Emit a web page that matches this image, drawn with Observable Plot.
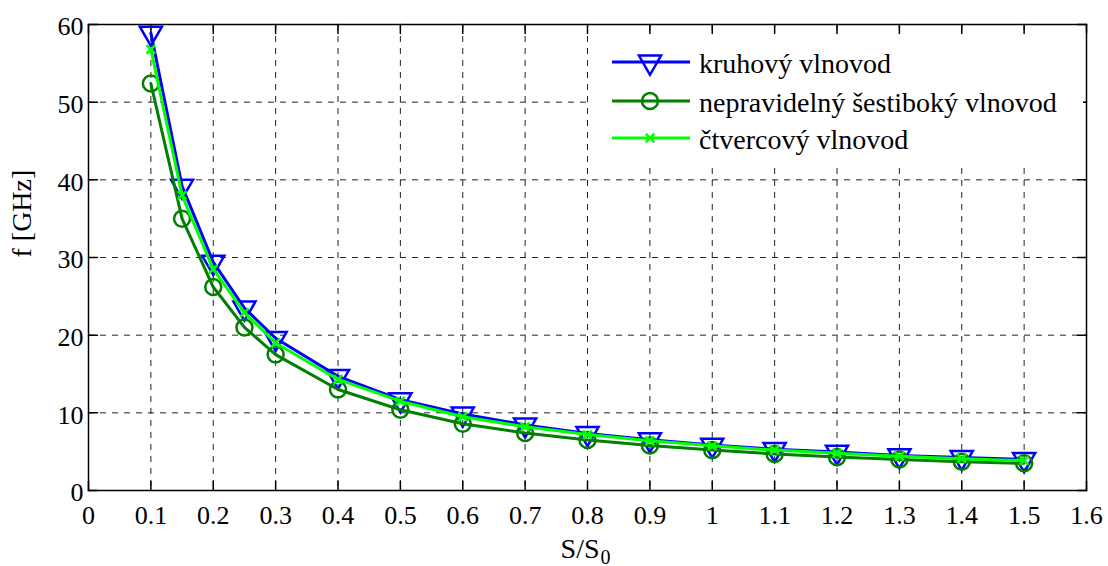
<!DOCTYPE html>
<html>
<head>
<meta charset="utf-8">
<script src="https://cdn.jsdelivr.net/npm/d3@7"></script>
<script src="https://cdn.jsdelivr.net/npm/@observablehq/plot@0.6"></script>
<style>
  html, body { margin: 0; padding: 0; background: #fff; }
  #chart { position: relative; width: 1108px; height: 566px; font-family: 'Liberation Serif'; }
  #chart svg text { font-family: 'Liberation Serif', 'DejaVu Serif', serif !important; }
  #legend { position: absolute; left: 589px; top: 36px; width: 494px; height: 126px; background: #fff; }
  #legend svg { display: block; }
</style>
</head>
<body>
<div id="chart"><div id="legend"></div></div>
<script>
// Relative cross-section S/S0
const ratio = [0.1, 0.15, 0.2, 0.25, 0.3, 0.4, 0.5, 0.6, 0.7, 0.8, 0.9, 1.0, 1.1, 1.2, 1.3, 1.4, 1.5];

// Cut-off frequency f [GHz] for each waveguide shape
const kruhovy   = [58.9, 39.2, 29.4, 23.5, 19.6, 14.7, 11.7, 9.85, 8.45, 7.35, 6.55, 5.85, 5.3, 4.95, 4.5, 4.25, 4.0];
const sestiboky = [52.4, 35.0, 26.2, 21.0, 17.5, 13.0, 10.4, 8.6, 7.4, 6.5, 5.8, 5.2, 4.7, 4.3, 4.0, 3.7, 3.5];
const ctvercovy = [56.8, 38.0, 28.5, 22.9, 19.0, 14.3, 11.5, 9.5, 8.2, 7.2, 6.4, 5.75, 5.2, 4.8, 4.4, 4.1, 3.85];

const seriesNames  = ["kruhový vlnovod", "nepravidelný šestiboký vlnovod", "čtvercový vlnovod"];
const seriesColors = ["#0000ff", "#007f00", "#00ff00"];

const xTicks = [0, 0.1, 0.2, 0.3, 0.4, 0.5, 0.6, 0.7, 0.8, 0.9, 1.0, 1.1, 1.2, 1.3, 1.4, 1.5, 1.6];
const xTickLabels = ["0", "0.1", "0.2", "0.3", "0.4", "0.5", "0.6", "0.7", "0.8", "0.9", "1", "1.1", "1.2", "1.3", "1.4", "1.5", "1.6"];
const yTicks = [0, 10, 20, 30, 40, 50, 60];
const yTickLabels = ["0", "10", "20", "30", "40", "50", "60"];

const xLabel = "S/S";
const xLabelSub = "0";
const yLabel = "f [GHz]";

const serifFont = "Liberation Serif";

const toRows = (values) => ratio.map((s, i) => ({s, f: values[i]}));
const rowsKruh = toRows(kruhovy);
const rowsSest = toRows(sestiboky);
const rowsCtv  = toRows(ctvercovy);

// short inward tick drawn as a vector shape
const tickShape = {draw(context, l) { context.moveTo(0, 0); context.lineTo(0, -l); }};
const tickLen = 9;
const gridStyle = {stroke: "#222", strokeOpacity: 1, strokeWidth: 1, strokeDasharray: "6,6"};

const markerR = {tri: 8.2, circ: 8, times: 4};

const chart = Plot.plot({
  width: 1108,
  height: 566,
  marginLeft: 88,
  marginRight: 22,
  marginTop: 24,
  marginBottom: 76,
  style: {fontFamily: serifFont, fontSize: "26px", color: "black", background: "white", overflow: "visible"},
  x: {domain: [0, 1.6], label: null},
  y: {domain: [0, 60], label: null},
  marks: [
    Plot.gridX(xTicks, gridStyle),
    Plot.gridY(yTicks, gridStyle),

    // ticks pointing into the plot box on all four sides
    Plot.vector(xTicks, {x: d => d, frameAnchor: "bottom", length: tickLen, rotate: 0, anchor: "start", shape: tickShape, stroke: "black"}),
    Plot.vector(xTicks, {x: d => d, frameAnchor: "top", length: tickLen, rotate: 180, anchor: "start", shape: tickShape, stroke: "black"}),
    Plot.vector(yTicks, {y: d => d, frameAnchor: "left", length: tickLen, rotate: 90, anchor: "start", shape: tickShape, stroke: "black"}),
    Plot.vector(yTicks, {y: d => d, frameAnchor: "right", length: tickLen, rotate: 270, anchor: "start", shape: tickShape, stroke: "black"}),

    // kruhový vlnovod
    Plot.line(rowsKruh, {x: "s", y: "f", stroke: seriesColors[0], strokeWidth: 3}),
    Plot.dot(rowsKruh, {x: "s", y: "f", symbol: "triangle", rotate: 180, r: markerR.tri, stroke: seriesColors[0], strokeWidth: 2.5, fill: "none"}),

    // nepravidelný šestiboký vlnovod
    Plot.line(rowsSest, {x: "s", y: "f", stroke: seriesColors[1], strokeWidth: 3}),
    Plot.dot(rowsSest, {x: "s", y: "f", symbol: "circle", r: markerR.circ, stroke: seriesColors[1], strokeWidth: 2.5, fill: "none"}),

    // čtvercový vlnovod
    Plot.line(rowsCtv, {x: "s", y: "f", stroke: seriesColors[2], strokeWidth: 3}),
    Plot.dot(rowsCtv, {x: "s", y: "f", symbol: "times", r: markerR.times, stroke: seriesColors[2], strokeWidth: 2.5}),

    Plot.frame({stroke: "black", strokeWidth: 1.5}),

    Plot.axisX({ticks: xTicks, tickFormat: d => xTickLabels[xTicks.indexOf(d)], tickSize: 0, tickPadding: 15, fontSize: 26, fontFamily: serifFont, label: null}),
    Plot.axisY({ticks: yTicks, tickFormat: d => yTickLabels[yTicks.indexOf(d)], tickSize: 0, tickPadding: 5, dy: 2.5, fontSize: 26, fontFamily: serifFont, label: null}),

    Plot.text([yLabel], {text: d => d, frameAnchor: "left", dx: -66, rotate: -90, fontSize: 28, fontFamily: serifFont, lineAnchor: "middle", fill: "black"}),
    Plot.text([xLabel], {text: d => d, frameAnchor: "bottom", dx: 12, dy: 59, textAnchor: "end", fontSize: 28, fontFamily: serifFont, lineAnchor: "middle", fill: "black"}),
    Plot.text([xLabelSub], {text: d => d, frameAnchor: "bottom", dx: 13, dy: 67, textAnchor: "start", fontSize: 20, fontFamily: serifFont, lineAnchor: "middle", fill: "black"})
  ]
});

const container = document.getElementById("chart");
container.insertBefore(chart, container.firstChild);
chart.style.position = "absolute";
chart.style.left = "0";
chart.style.top = "0";

// Legend box with line-and-marker samples
const legendRowsY = [26, 65, 102];
const legendSymbols = [
  {type: d3.symbolTriangle, r: markerR.tri, rotate: 180},
  {type: d3.symbolCircle, r: markerR.circ, rotate: 0},
  {type: d3.symbolTimes, r: markerR.times, rotate: 0}
];
const lsvg = d3.select("#legend").append("svg").attr("width", 494).attr("height", 126);
seriesNames.forEach((name, i) => {
  const g = lsvg.append("g").attr("transform", `translate(0,${legendRowsY[i]})`);
  g.append("line").attr("x1", 23).attr("x2", 101).attr("y1", 0).attr("y2", 0)
    .attr("stroke", seriesColors[i]).attr("stroke-width", 3);
  const sym = legendSymbols[i];
  g.append("path")
    .attr("d", d3.symbol(sym.type, Math.PI * sym.r * sym.r)())
    .attr("transform", `translate(61,0) rotate(${sym.rotate})`)
    .attr("fill", "none").attr("stroke", seriesColors[i]).attr("stroke-width", 2.5);
  g.append("text").attr("x", 110).attr("y", 11)
    .attr("font-family", serifFont)
    .attr("font-size", 28).attr("fill", "black").text(name);
});
</script>
</body>
</html>
